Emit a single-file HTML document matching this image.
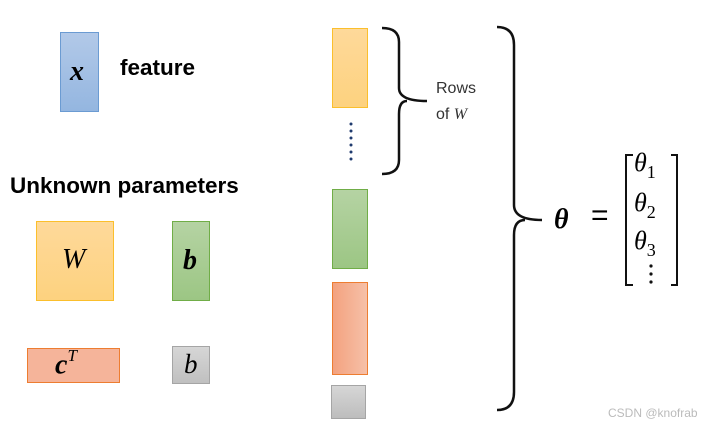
<!DOCTYPE html>
<html><head><style>
body{margin:0;background:#fff;width:709px;height:427px;overflow:hidden;position:relative;font-family:"Liberation Sans",sans-serif}
.b{position:absolute;box-sizing:border-box}
.t{position:absolute;white-space:nowrap}
.m{font-family:"Liberation Serif",serif;font-style:italic}
.s{font-style:normal;font-size:18px;position:relative;top:7px}
</style></head><body>
<div class="b" style="left:60px;top:32px;width:39px;height:80px;background:linear-gradient(#b2c9e8,#94b6e0);border:1.5px solid #6b9bd2"></div>
<div class="t m" style="left:70px;top:56px;font-size:28px;font-weight:bold">x</div>
<div class="t" style="left:120px;top:55px;font-size:22.5px;font-weight:bold">feature</div>
<div class="t" style="left:10px;top:173px;font-size:22.5px;font-weight:bold">Unknown parameters</div>
<div class="b" style="left:36px;top:221px;width:78px;height:80px;background:linear-gradient(#fed99a,#fdd27f);border:1.5px solid #fbbf2c"></div>
<div class="t m" style="left:62px;top:244px;font-size:28px">W</div>
<div class="b" style="left:172px;top:221px;width:38px;height:80px;background:linear-gradient(#b5d3a3,#9cc684);border:1.5px solid #70ad47"></div>
<div class="t m" style="left:183px;top:245px;font-size:28px;font-weight:bold">b</div>
<div class="b" style="left:27px;top:348px;width:93px;height:35px;background:#f5b49a;border:1.5px solid #ed7d31"></div>
<div class="t m" style="left:55px;top:348px;font-size:28px;font-weight:bold">c<sup style="font-size:17px;font-weight:normal;position:relative;top:-2px">T</sup></div>
<div class="b" style="left:172px;top:346px;width:38px;height:38px;background:linear-gradient(#d6d6d6,#c0c0c0);border:1.5px solid #a5a5a5"></div>
<div class="t m" style="left:184px;top:349px;font-size:27px">b</div>

<div class="b" style="left:332px;top:28px;width:36px;height:80px;background:linear-gradient(#fed99a,#fdd27f);border:1.5px solid #fbbf2c"></div>
<div class="b" style="left:332px;top:189px;width:36px;height:80px;background:linear-gradient(#b5d3a3,#9cc684);border:1.5px solid #70ad47"></div>
<div class="b" style="left:332px;top:282px;width:36px;height:93px;background:linear-gradient(90deg,#f3a27f,#f6c0a8);border:1.5px solid #ed7d31"></div>
<div class="b" style="left:331px;top:385px;width:35px;height:34px;background:linear-gradient(#d6d6d6,#bdbdbd);border:1px solid #a5a5a5"></div>
<svg width="709" height="427" style="position:absolute;left:0;top:0">
<g fill="#1f3b6e"><circle cx="351" cy="124" r="1.5"/><circle cx="351" cy="131" r="1.5"/><circle cx="351" cy="138" r="1.5"/><circle cx="351" cy="145" r="1.5"/><circle cx="351" cy="152" r="1.5"/><circle cx="351" cy="159" r="1.5"/></g>
<g fill="none" stroke="#111" stroke-width="2.5">
<path d="M382 28 Q399 28 399 42 L399 88 Q399 101 427 101 M382 174 Q399 174 399 160 L399 114 Q399 101 407 101"/>
<path d="M497 27 Q514 27 514 45 L514 205 Q514 220 542 220 M497 410 Q514 410 514 392 L514 235 Q514 220 525 220"/>
<path d="M633 155 L626 155 L626 285 L633 285 M671 155 L677 155 L677 285 L671 285" stroke-width="2"/>
</g>
<g fill="#111"><circle cx="651" cy="266" r="1.6"/><circle cx="651" cy="274" r="1.6"/><circle cx="651" cy="282" r="1.6"/></g>
</svg>
<div class="t" style="left:436px;top:76px;font-size:16px;color:#333;line-height:26px">Rows<br>of <span class="m">W</span></div>
<div class="t m" style="left:554px;top:204px;font-size:28px;font-weight:bold">θ</div>
<div class="t" style="left:591px;top:199px;font-size:30px">=</div>
<div class="t m" style="left:634px;top:148px;font-size:26px;line-height:30px">θ<span class="s">1</span></div>
<div class="t m" style="left:634px;top:188px;font-size:26px;line-height:30px">θ<span class="s">2</span></div>
<div class="t m" style="left:634px;top:226px;font-size:26px;line-height:30px">θ<span class="s">3</span></div>
<div class="t" style="left:608px;top:406px;font-size:12px;color:#bbb">CSDN @knofrab</div>
</body></html>
